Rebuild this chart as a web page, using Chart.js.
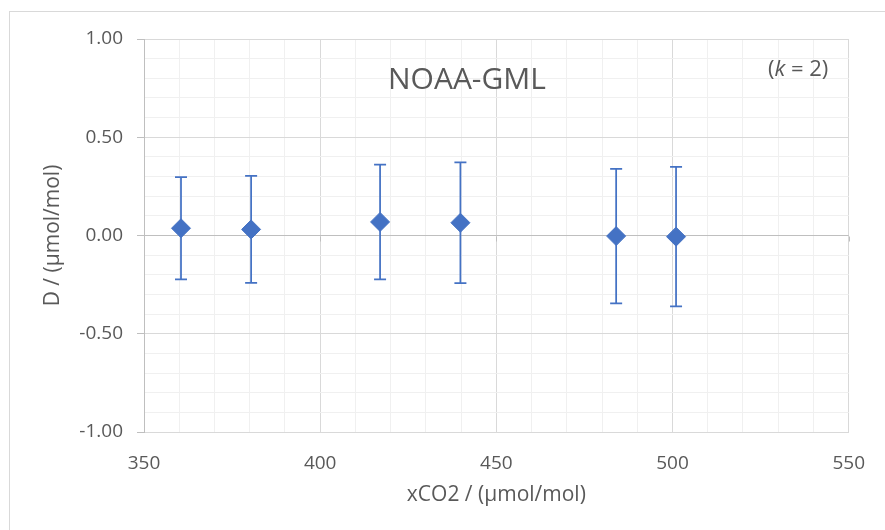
<!DOCTYPE html>
<html>
<head>
<meta charset="utf-8">
<script src="https://cdn.jsdelivr.net/npm/chart.js@4.4.1/dist/chart.umd.min.js"></script>
<style>
html,body{margin:0;padding:0;background:#fff}
#wrap{position:relative;width:885px;height:530px;overflow:hidden}
#frame{position:absolute;left:9px;top:11px;width:1000px;height:1000px;border:1px solid #d9d9d9}
canvas{position:absolute;left:0;top:0}
</style>
</head>
<body>
<div id="wrap"><div id="frame"></div><canvas id="chart" width="885" height="530"></canvas></div>
<script>
// data
const xCO2=[360.5,380.4,417,439.8,484,501]
const dVals=[0.037,0.031,0.069,0.065,-0.003,-0.006]
const uVals=[0.26,0.272,0.292,0.307,0.342,0.355]
const xTicks=[350,400,450,500,550]
const yTicks=[-1,-0.5,0,0.5,1]

const FONT="'Open Sans', 'Liberation Sans', sans-serif"
const TXT="#595959"
const BLUE="#4472c4"

const isMajorY=v=>yTicks.some(t=>Math.abs(t-v)<1e-6)
const isMajorX=v=>xTicks.includes(Math.round(v))

const extras={
id:"extras",
beforeDatasetsDraw(chart){
const ctx=chart.ctx
const xs=chart.scales.x
const ys=chart.scales.y
ctx.save()
// tick marks hanging off the zero line
ctx.strokeStyle="#bfbfbf"
ctx.lineWidth=1
const y0=Math.round(ys.getPixelForValue(0))+0.5
xTicks.forEach(t=>{
const px=Math.round(xs.getPixelForValue(t))+0.5
ctx.beginPath()
ctx.moveTo(px,y0)
ctx.lineTo(px,y0+5)
ctx.stroke()
})
// error bars
ctx.strokeStyle=BLUE
ctx.lineWidth=1.75
xCO2.forEach((x,i)=>{
const px=xs.getPixelForValue(x)
const hi=ys.getPixelForValue(dVals[i]+uVals[i])
const lo=ys.getPixelForValue(dVals[i]-uVals[i])
ctx.beginPath()
ctx.moveTo(px,hi)
ctx.lineTo(px,lo)
ctx.moveTo(px-6,hi)
ctx.lineTo(px+6,hi)
ctx.moveTo(px-6,lo)
ctx.lineTo(px+6,lo)
ctx.stroke()
})
ctx.restore()
},
afterDraw(chart){
const ctx=chart.ctx
ctx.save()
ctx.fillStyle=TXT
ctx.textBaseline="alphabetic"
ctx.textAlign="left"
ctx.font="30px "+FONT
ctx.fillText("NOAA-GML",388,89)
// (k = 2) with italic k
let x=768
const yb=76
ctx.font="22px "+FONT
ctx.fillText("(",x,yb)
x+=ctx.measureText("(").width
ctx.font="italic 22px "+FONT
ctx.fillText("k",x,yb)
x+=ctx.measureText("k").width
ctx.font="22px "+FONT
ctx.fillText(" = 2)",x,yb)
ctx.restore()
}
}

new Chart(document.getElementById("chart"),{
type:"scatter",
data:{
datasets:[{
data:xCO2.map((x,i)=>({x:x,y:dVals[i]})),
pointStyle:"rectRot",
radius:9.5,
backgroundColor:BLUE,
borderColor:BLUE,
borderWidth:1
}]
},
options:{
responsive:false,
animation:false,
devicePixelRatio:1,
events:[],
layout:{padding:{left:18,top:39,right:33,bottom:18}},
plugins:{legend:{display:false},tooltip:{enabled:false}},
scales:{
x:{
type:"linear",
min:350,
max:550,
afterFit(s){s.height=80},
ticks:{
stepSize:10,
autoSkip:false,
maxRotation:0,
padding:20,
color:TXT,
font:{family:FONT,size:19},
callback:v=>isMajorX(v)?String(Math.round(v)):""
},
grid:{
drawTicks:false,
color:c=>isMajorX(c.tick.value)?"#d9d9d9":"#f0f0f0"
},
border:{color:"#d9d9d9"},
title:{
display:true,
text:"xCO2 / (µmol/mol)",
color:TXT,
font:{family:FONT,size:21},
padding:{top:0,bottom:4}
}
},
y:{
min:-1,
max:1,
afterFit(s){s.width=126},
ticks:{
stepSize:0.1,
autoSkip:false,
padding:14,
color:TXT,
font:{family:FONT,size:19},
callback:v=>isMajorY(v)?(Math.round(v*10)/10+0).toFixed(2):""
},
grid:{
tickLength:7,
color:c=>Math.abs(c.tick.value)<1e-6?"#bfbfbf":(isMajorY(c.tick.value)?"#d9d9d9":"#f0f0f0"),
tickColor:c=>isMajorY(c.tick.value)?"#bfbfbf":"rgba(0,0,0,0)"
},
border:{color:"#bfbfbf"},
title:{
display:true,
text:"D / (µmol/mol)",
color:TXT,
font:{family:FONT,size:21},
padding:{top:22,bottom:0}
}
}
}
},
plugins:[extras]
})
</script>
</body>
</html>
